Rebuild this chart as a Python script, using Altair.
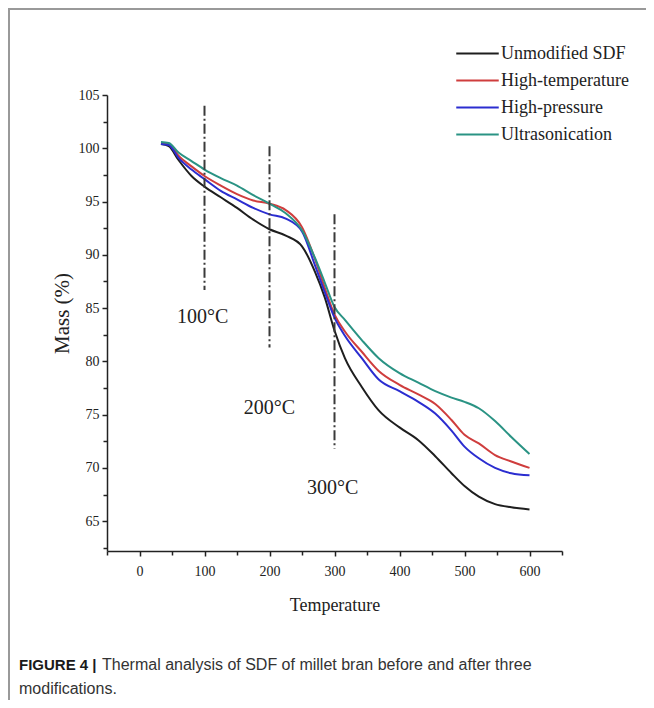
import altair as alt
import pandas as pd

series = ["Unmodified SDF", "High-temperature", "High-pressure", "Ultrasonication"]
colors = ["#1e1e1e", "#cf3d3d", "#2b2dd0", "#2a9384"]

temperature = [33, 45, 60, 80, 100, 125, 150, 175, 200, 225, 250, 270, 285, 300,
               316, 342, 368, 400, 429, 455, 480, 500, 522, 547, 572, 600]
mass_unmodified = [100.4, 100.2, 98.9, 97.4, 96.4, 95.4, 94.4, 93.3, 92.4, 91.8, 90.8, 88.4, 86.0, 82.9,
                   80.3, 77.6, 75.4, 73.8, 72.6, 71.1, 69.5, 68.3, 67.3, 66.6, 66.3, 66.1]
mass_high_temp = [100.5, 100.4, 99.3, 98.3, 97.4, 96.5, 95.7, 95.1, 94.8, 94.2, 92.6, 89.6, 86.9, 84.4,
                  82.8, 80.9, 79.1, 77.8, 76.9, 76.0, 74.5, 73.1, 72.3, 71.2, 70.6, 70.0]
mass_high_press = [100.4, 100.3, 99.1, 98.0, 97.1, 96.0, 95.2, 94.4, 93.8, 93.4, 92.2, 89.0, 86.5, 84.1,
                   82.4, 80.3, 78.3, 77.2, 76.2, 75.1, 73.5, 72.0, 70.9, 70.0, 69.5, 69.3]
mass_ultrasonic = [100.6, 100.5, 99.6, 98.8, 98.0, 97.2, 96.5, 95.6, 94.8, 93.9, 92.3, 89.7, 87.4, 85.1,
                   83.9, 82.0, 80.3, 78.9, 78.0, 77.2, 76.6, 76.2, 75.6, 74.4, 72.9, 71.3]

x_major = [0, 100, 200, 300, 400, 500, 600]
x_minor = [-50, 50, 150, 250, 350, 450, 550, 650]
y_major = [65, 70, 75, 80, 85, 90, 95, 100, 105]
y_minor = [62.5, 67.5, 72.5, 77.5, 82.5, 87.5, 92.5, 97.5, 102.5]

marker_temp = [100, 200, 300]
marker_top = [104.0, 100.2, 93.8]
marker_bottom = [86.7, 81.3, 71.8]
marker_text = ["100\u00b0C", "200\u00b0C", "300\u00b0C"]
marker_text_x = [97, 200, 297]
marker_text_y = [84.2, 75.6, 68.1]

caption_bold = "FIGURE 4 |"
caption_line1 = "Thermal analysis of SDF of millet bran before and after three"
caption_line2 = "modifications."

rows = []
for name, vals in zip(series, [mass_unmodified, mass_high_temp, mass_high_press, mass_ultrasonic]):
    for t, m in zip(temperature, vals):
        rows.append({"Temperature": t, "Mass": m, "Sample": name})
df = pd.DataFrame(rows)

markers = pd.DataFrame({"t": marker_temp, "top": marker_top, "bottom": marker_bottom})
marker_labels = pd.DataFrame({"t": marker_text_x, "m": marker_text_y, "label": marker_text})

W, H = 455, 456
xs = alt.Scale(domain=[-50, 650], nice=False, zero=False)
ys = alt.Scale(domain=[62.2, 105], nice=False, zero=False)

serif = "Liberation Serif"
ink = "#222222"

x_axis = alt.Axis(
    values=x_major, format="d", orient="bottom",
    title="Temperature", grid=False, labelOverlap=False, labelFlush=False,
    domainColor=ink, domainWidth=1.5, tickColor=ink, tickWidth=1.5, tickSize=5,
    labelFont=serif, labelFontSize=14, labelColor=ink, labelPadding=8,
    titleFont=serif, titleFontSize=18, titleFontWeight="normal", titleColor=ink, titlePadding=18,
)
y_axis = alt.Axis(
    values=y_major, format="d", orient="left",
    title="Mass (%)", grid=False, labelOverlap=False, labelFlush=False,
    domainColor=ink, domainWidth=1.5, tickColor=ink, tickWidth=1.5, tickSize=5,
    labelFont=serif, labelFontSize=14, labelColor=ink, labelPadding=3,
    titleFont=serif, titleFontSize=21, titleFontWeight="normal", titleColor=ink, titlePadding=6,
    titleY=218,
)
x_axis_minor = alt.Axis(
    values=x_minor, orient="bottom", title=None, labels=False, domain=False, grid=False,
    tickColor=ink, tickWidth=1.5, tickSize=4,
)
y_axis_minor = alt.Axis(
    values=y_minor, orient="left", title=None, labels=False, domain=False, grid=False,
    tickColor=ink, tickWidth=1.5, tickSize=4,
)

lines = alt.Chart(df).mark_line(strokeWidth=2, interpolate="monotone").encode(
    x=alt.X("Temperature:Q", scale=xs, axis=x_axis),
    y=alt.Y("Mass:Q", scale=ys, axis=y_axis),
    color=alt.Color(
        "Sample:N",
        scale=alt.Scale(domain=series, range=colors),
        sort=series,
        legend=alt.Legend(
            title=None, orient="none", legendX=357, legendY=-55,
            symbolType="M-1.7,0H1.7", symbolSize=625, symbolStrokeWidth=2,
            labelFont=serif, labelFontSize=18, labelColor=ink, labelOffset=10,
            rowPadding=4, padding=0,
        ),
    ),
)

rules = alt.Chart(markers).mark_rule(color="#3a3a3a", strokeWidth=2, strokeDash=[10, 3, 2, 3]).encode(
    x=alt.X("t:Q", scale=xs, axis=x_axis_minor),
    y=alt.Y("top:Q", scale=ys, axis=y_axis_minor),
    y2="bottom:Q",
)

labels = alt.Chart(marker_labels).mark_text(font=serif, fontSize=20, color=ink).encode(
    x=alt.X("t:Q", scale=xs, axis=None),
    y=alt.Y("m:Q", scale=ys, axis=None),
    text="label:N",
)

one = pd.DataFrame({"k": [0]})
frame_top = alt.Chart(one).mark_rule(color="#999999", strokeWidth=2).encode(
    x=alt.value(-99), x2=alt.value(W + 84), y=alt.value(-86)
)
frame_left = alt.Chart(one).mark_rule(color="#999999", strokeWidth=2).encode(
    x=alt.value(-98), y=alt.value(-86), y2=alt.value(H + 149)
)
cap_b = alt.Chart(one).mark_text(font="Liberation Sans", fontSize=15, fontWeight="bold",
                                 color="#1a1a1a", align="left", baseline="middle").encode(
    x=alt.value(-88), y=alt.value(570), text=alt.value(caption_bold)
)
cap_1 = alt.Chart(one).mark_text(font="Liberation Sans", fontSize=16, color="#333333",
                                 align="left", baseline="middle").encode(
    x=alt.value(-5), y=alt.value(570), text=alt.value(caption_line1)
)
cap_2 = alt.Chart(one).mark_text(font="Liberation Sans", fontSize=16, color="#333333",
                                 align="left", baseline="middle").encode(
    x=alt.value(-88), y=alt.value(594), text=alt.value(caption_line2)
)

chart = alt.layer(lines, rules, labels, frame_top, frame_left, cap_b, cap_1, cap_2).resolve_axis(
    x="independent", y="independent"
).properties(
    width=W, height=H,
    autosize=alt.AutoSizeParams(type="none"),
    padding={"left": 99, "top": 87, "right": 84, "bottom": 149},
    background="white",
).configure_view(stroke=None)

chart.save("out.html", embed_options={"renderer": "svg", "actions": False})
